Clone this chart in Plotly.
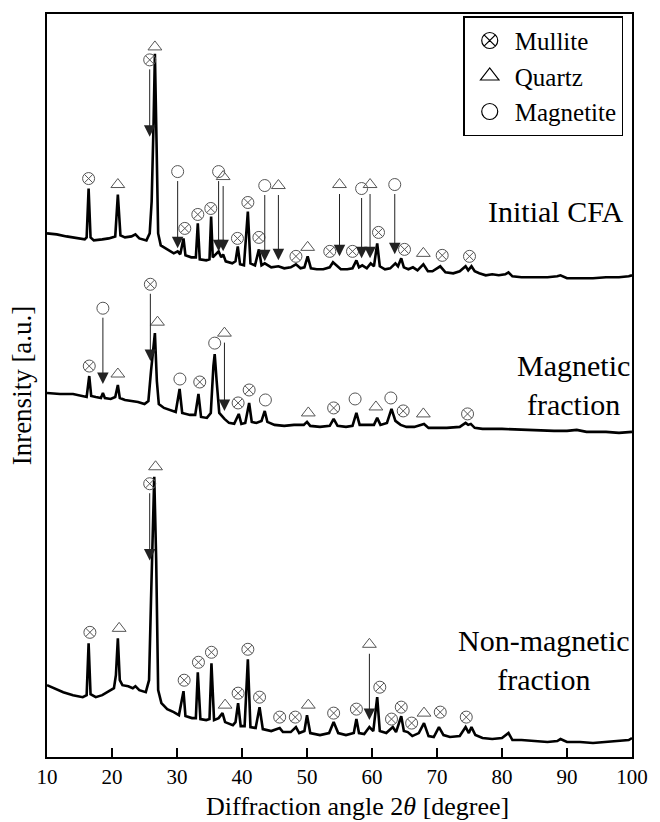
import plotly.graph_objects as go

# ---------------- data ----------------
# 2-theta [degree] and intensity [a.u.] for each pattern (intensity relative to its own baseline)
theta_initial = [10, 11.5, 13, 14.5, 15.8, 16.1, 16.4, 16.7, 17.2, 18.5, 19.5, 20.5, 20.9, 21.3, 22, 23, 23.6, 24.2,
                 25.3, 25.8, 26.1, 26.4, 26.6, 26.85, 27.1, 27.5, 28.5, 29.5, 30.1, 30.5, 31.0, 31.3, 32.2, 32.9,
                 33.2, 33.5, 34.5, 35.0, 35.25, 35.5, 36.1, 36.4, 36.8, 37.1, 37.5, 38.5, 39.0, 39.35, 39.7, 40.3,
                 40.9, 41.3, 42.0, 42.6, 43.0, 43.5, 44.5, 45.6, 46.5, 47.5, 48.3, 49.0, 49.6, 50.1, 50.6, 51.5,
                 52.5, 53.5, 54.0, 54.6, 55.2, 56.2, 57.0, 57.6, 58.0, 58.5, 59.2, 59.8, 60.3, 60.8, 61.2, 62.0,
                 62.8, 63.6, 64.0, 64.5, 64.9, 65.6, 66.3, 67.0, 67.9, 68.6, 69.3, 70.5, 71.3, 72.5, 73.5, 74.4,
                 74.8, 75.3, 75.8, 76.5, 77.5, 78.5, 79.5, 80.5, 81.0, 81.6, 83, 85, 87, 88.5, 89, 90, 92, 94, 96,
                 98, 99.5, 100]
intensity_initial = [48, 47, 45, 43, 42, 44, 93, 44, 41, 42, 43, 45, 87, 46, 44, 45, 47, 43,
                     41, 48, 80, 160, 228, 140, 48, 36, 32, 28, 30, 27, 43, 26, 24, 24,
                     58, 22, 21, 22, 65, 24, 28, 30, 24, 27, 20, 18, 20, 35, 17, 16,
                     70, 18, 16, 32, 16, 18, 14, 15, 13, 14, 17, 13, 14, 25, 13, 12,
                     12, 14, 19, 15, 12, 12, 13, 21, 14, 16, 13, 18, 15, 38, 15, 12,
                     13, 18, 15, 23, 14, 12, 14, 11, 17, 10, 10, 15, 9, 8, 10, 15,
                     11, 15, 10, 8, 6, 7, 6, 7, 9, 5, 4, 4, 4, 5, 6, 3, 3, 3, 4,
                     4, 5, 6]

theta_magnetic = [10, 12, 14, 15.5, 16.1, 16.5, 16.8, 17.5, 18.3, 18.6, 18.9, 19.8, 20.5, 20.9, 21.2, 22, 23, 24,
                  25, 25.6, 26.0, 26.3, 26.6, 26.9, 27.2, 28, 29, 29.8, 30.4, 30.8, 32, 32.8, 33.3, 33.7, 34.6,
                  35.2, 35.6, 35.8, 36.1, 36.5, 37.3, 38, 38.8, 39.5, 39.9, 40.5, 41.1, 41.5, 42.2, 43.0, 43.5,
                  43.9, 45, 46.5, 48, 49.5, 50.0, 50.5, 52, 53.5, 54.1, 54.7, 56, 57.0, 57.6, 58.1, 59.5, 60.3,
                  60.8, 61.3, 62.3, 63.0, 63.6, 64.4, 65.3, 66.5, 68.0, 68.7, 70, 71.5, 73.5, 74.4, 74.8, 75.2,
                  75.8, 77, 80, 83, 86, 88, 90, 91.5, 93, 96, 98, 100]
intensity_magnetic = [43, 42, 42, 40, 39, 60, 40, 39, 38, 43, 38, 37, 39, 51, 38, 36, 35, 34,
                      32, 35, 65, 85, 103, 55, 32, 28, 26, 24, 47, 23, 21, 21, 42, 19, 18,
                      23, 70, 82, 55, 23, 17, 13, 12, 22, 12, 13, 33, 14, 13, 15, 25,
                      14, 11, 10, 11, 11, 14, 10, 9, 10, 17, 10, 9, 10, 23, 11, 11, 11,
                      18, 11, 13, 27, 15, 11, 9, 9, 12, 8, 8, 8, 9, 13, 11, 12,
                      8, 7, 7, 6, 5, 5, 5, 6, 4, 4, 3, 4]

theta_nonmag = [10, 11, 12.5, 14, 15.5, 16.1, 16.4, 16.7, 17.5, 18.5, 19.5, 20.3, 20.6, 20.9, 21.2, 21.6, 22.5,
                23.2, 23.6, 24.2, 25.2, 25.7, 26.0, 26.3, 26.5, 26.8, 27.1, 27.6, 28.5, 29.5, 30.3, 31.0, 31.3,
                32.3, 32.9, 33.2, 33.6, 34.5, 35.0, 35.3, 35.7, 36.4, 37.0, 37.4, 38.6, 39.0, 39.4, 39.8, 40.4,
                40.9, 41.3, 42.1, 42.7, 43.2, 44.5, 45.8, 46.3, 47.5, 48.3, 48.8, 49.6, 50.0, 50.5, 52, 53.4,
                54.1, 54.8, 56, 57.2, 57.6, 58.0, 58.8, 59.6, 60.2, 60.8, 61.2, 62.2, 63.2, 63.7, 64.5, 64.9,
                65.5, 66.2, 67.2, 68.0, 68.7, 69.5, 70.3, 71.0, 72, 73.5, 74.4, 74.9, 75.3, 75.9, 77, 78.5, 80,
                81.0, 81.6, 83, 85, 87, 88.5, 89, 90, 92, 94, 96, 98, 99.5, 100]
intensity_nonmag = [60, 57, 53, 50, 48, 50, 102, 51, 48, 50, 54, 57, 70, 107, 65, 60, 59,
                    57, 59, 55, 53, 65, 145, 225, 269, 185, 55, 42, 36, 33, 30, 54, 29,
                    27, 27, 73, 26, 25, 26, 82, 25, 27, 32, 23, 20, 23, 42, 19, 19,
                    86, 18, 17, 38, 16, 14, 17, 13, 13, 18, 12, 14, 30, 12, 10, 12,
                    23, 12, 10, 12, 26, 12, 11, 18, 14, 48, 14, 12, 18, 13, 29, 14,
                    13, 9, 12, 22, 9, 8, 18, 10, 8, 9, 18, 12, 18, 10, 7, 6, 7,
                    12, 5, 5, 4, 3, 4, 6, 3, 3, 2, 3, 4, 5, 7]

# phase labels placed above peaks: (2-theta, height in a.u. above the pattern baseline)
initial_mullite = [(16.4, 103), (31.2, 53), (33.2, 67), (35.2, 73), (39.3, 43), (40.9, 79), (42.6, 44),
                   (48.3, 25), (53.5, 30), (57.0, 30), (61.0, 49), (65.0, 32), (70.8, 26), (75.0, 25)]
initial_quartz = [(20.9, 97), (26.6, 235), (50.1, 34), (67.9, 28)]
initial_magnetite = []

magnetic_mullite = [(16.5, 70), (33.5, 54), (39.4, 33), (41.1, 46), (54.1, 28), (64.8, 25), (74.7, 22)]
magnetic_quartz = [(20.9, 62), (27.0, 114), (50.2, 23), (60.6, 29), (67.9, 22)]
magnetic_magnetite = [(30.45, 57), (35.8, 93), (43.6, 36), (57.4, 37), (62.9, 38)]

nonmag_mullite = [(16.6, 113), (31.1, 65), (33.3, 83), (35.3, 93), (39.4, 52), (40.9, 96), (42.7, 48),
                  (45.8, 28), (48.2, 28), (54.1, 32), (57.6, 36), (61.2, 58), (63.0, 26), (64.5, 38),
                  (66.1, 22), (70.5, 33), (74.5, 28)]
nonmag_quartz = [(21.1, 117), (26.7, 279), (37.4, 40), (50.2, 40), (68.0, 32)]
nonmag_magnetite = []

# labels with pointer arrows: (phase, 2-theta, label height, arrow-tip height)
initial_arrows = [("Mullite", 25.8, 222, 145), ("Magnetite", 30.1, 110, 33), ("Magnetite", 36.4, 110, 30),
                  ("Quartz", 37.1, 105, 30), ("Magnetite", 43.5, 96, 20), ("Quartz", 45.6, 96, 21),
                  ("Quartz", 55.0, 97, 25), ("Magnetite", 58.4, 93, 23), ("Quartz", 59.7, 97, 23),
                  ("Magnetite", 63.5, 97, 27)]
magnetic_arrows = [("Magnetite", 18.6, 128, 52), ("Mullite", 25.9, 152, 75), ("Quartz", 37.3, 103, 25)]
nonmag_arrows = [("Mullite", 25.8, 262, 185), ("Quartz", 59.6, 101, 25)]

pattern_names = ["Initial CFA", "Magnetic<br>fraction", "Non-magnetic<br>fraction"]
pattern_offsets = [477, 322, 12]          # vertical stacking of the patterns
x_ticks = [10, 20, 30, 40, 50, 60, 70, 80, 90, 100]
phases = ["Mullite", "Quartz", "Magnetite"]
x_title = "Diffraction angle 2<i>θ</i> [degree]"
y_title = "Inrensity [a.u.]"

# ---------------- styling ----------------
FONT = "Liberation Serif"
symbols = {"Mullite": "circle-x-open", "Quartz": "triangle-up-open", "Magnetite": "circle-open"}
LABEL_GREY = "#555555"

patterns = [
    (theta_initial, intensity_initial, {"Mullite": initial_mullite, "Quartz": initial_quartz,
                                        "Magnetite": initial_magnetite}, initial_arrows),
    (theta_magnetic, intensity_magnetic, {"Mullite": magnetic_mullite, "Quartz": magnetic_quartz,
                                          "Magnetite": magnetic_magnetite}, magnetic_arrows),
    (theta_nonmag, intensity_nonmag, {"Mullite": nonmag_mullite, "Quartz": nonmag_quartz,
                                      "Magnetite": nonmag_magnetite}, nonmag_arrows),
]

fig = go.Figure()
annotations = []
label_pts = {p: ([], []) for p in phases}

for (tx, iy, marks, arrows), off, name in zip(patterns, pattern_offsets, pattern_names):
    fig.add_trace(go.Scatter(x=tx, y=[v + off for v in iy], mode="lines",
                             line=dict(color="black", width=2.6), showlegend=False, hoverinfo="skip"))
    for ph, pts in marks.items():
        for a, h in pts:
            label_pts[ph][0].append(a)
            label_pts[ph][1].append(h + off)
    for ph, a, h, tip in arrows:
        label_pts[ph][0].append(a)
        label_pts[ph][1].append(h + off)
        annotations.append(dict(x=a, y=tip + off, ax=a, ay=h + off - 8, xref="x", yref="y",
                                axref="x", ayref="y", text="", showarrow=True, arrowhead=2,
                                arrowsize=2.3, arrowwidth=1, arrowcolor="#222222", standoff=0))

for ph in phases:
    fig.add_trace(go.Scatter(x=label_pts[ph][0], y=label_pts[ph][1], mode="markers",
                             marker=dict(symbol=symbols[ph], size=12, color=LABEL_GREY,
                                         line=dict(width=1, color=LABEL_GREY)),
                             showlegend=False, hoverinfo="skip"))

# legend-only entries
for ph in phases:
    fig.add_trace(go.Scatter(x=[None], y=[None], mode="markers", name=ph,
                             marker=dict(symbol=symbols[ph], size=16, color="black",
                                         line=dict(width=1.2, color="black"))))

# pattern names
name_pos = [(0.99, 547), (1.0, 373), (1.0, 97)]
for name, (xp, yv) in zip(pattern_names, name_pos):
    annotations.append(dict(x=xp, y=yv, xref="paper", yref="y", text=name, showarrow=False,
                            xanchor="right", yanchor="middle", align="center",
                            font=dict(family=FONT, size=30, color="black")))

# x-axis title (placed as in the original figure, slightly right of centre)
annotations.append(dict(x=0.53, y=-0.067, xref="paper", yref="paper", text=x_title, showarrow=False,
                        xanchor="center", yanchor="middle", font=dict(family=FONT, size=26, color="black")))

fig.update_layout(
    width=660, height=822,
    margin=dict(l=47, r=19, t=12, b=65),
    paper_bgcolor="white", plot_bgcolor="white",
    font=dict(family=FONT, color="black"),
    annotations=annotations,
    legend=dict(x=0.985, y=0.997, xanchor="right", yanchor="top", bgcolor="white",
                bordercolor="black", borderwidth=1.5, font=dict(family=FONT, size=25),
                itemsizing="trace", itemwidth=40, tracegroupgap=0),
    xaxis=dict(range=[10, 100], tickvals=x_ticks, ticktext=[str(t) for t in x_ticks],
               ticks="inside", ticklen=9, tickwidth=1.5, tickcolor="black",
               showline=True, linecolor="black", linewidth=1.5, mirror=True, showgrid=False,
               zeroline=False, tickfont=dict(family=FONT, size=21)),
    yaxis=dict(range=[0, 745], showticklabels=False, ticks="", showline=True, linecolor="black",
               linewidth=1.5, mirror=True, showgrid=False, zeroline=False,
               title=dict(text=y_title, font=dict(family=FONT, size=27), standoff=6)),
)

fig.write_html("out.html")
